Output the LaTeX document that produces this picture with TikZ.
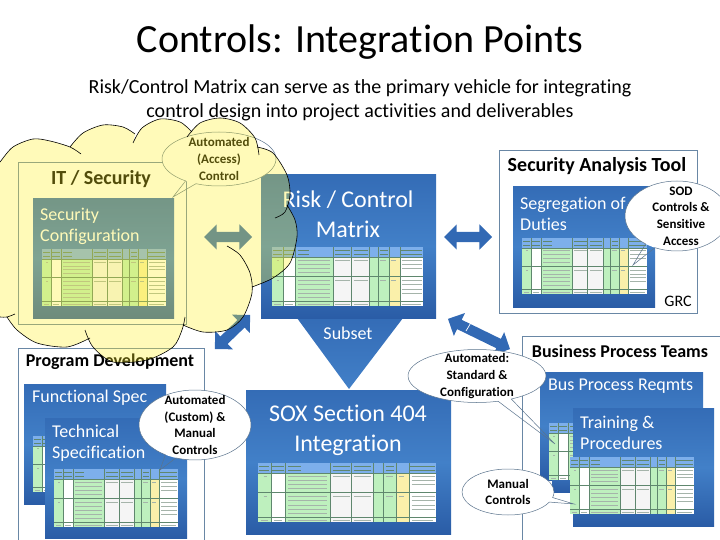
\documentclass[tikz,border=0pt]{standalone}
\usepackage{fontspec}
\setmainfont[Ligatures=NoCommon]{Carlito}
\usetikzlibrary{shapes.geometric,shapes.arrows,shapes.callouts}

\definecolor{boxline}{RGB}{105,135,165}
\definecolor{calloutline}{RGB}{90,115,140}
\definecolor{paneltop}{RGB}{52,108,182}
\definecolor{panelmid}{RGB}{66,128,200}
\definecolor{panelbottom}{RGB}{42,92,166}
\definecolor{arrowblue}{RGB}{50,105,180}
\definecolor{cloudyellow}{RGB}{255,240,36}
\definecolor{tablehead}{RGB}{125,175,235}
\definecolor{tablegreen}{RGB}{190,240,190}
\definecolor{tablegrey}{RGB}{245,245,245}
\definecolor{tableyellow}{RGB}{250,240,170}
\definecolor{tableink}{RGB}{95,135,110}
\definecolor{tablegreek}{RGB}{165,180,170}

\tikzset{
    groupbox/.style={draw=boxline,fill=white,line width=0.8pt,anchor=north west,inner sep=0pt},
    panel/.style={anchor=north west,inner sep=0pt,top color=paneltop,bottom color=panelbottom,middle color=panelmid},
    paneltext/.style={text=white,align=left,anchor=west,inner sep=0pt,font=\fontsize{18}{21}\selectfont},
    bigtext/.style={text=white,align=center,inner sep=0pt,font=\fontsize{24}{30}\selectfont},
    grouptitle/.style={font=\fontsize{#1}{20}\selectfont\bfseries,inner sep=0pt},
    bubblefill/.style={ellipse,fill=white,inner sep=0pt},
    bubbleline/.style={ellipse callout,draw=calloutline,line width=0.5pt,inner sep=0pt,callout pointer arc=12},
    bubbletext/.style={align=center,inner sep=0pt,font=\fontsize{13}{16.7}\selectfont\bfseries},
    linkarrow/.style={double arrow,fill=arrowblue,inner xsep=0pt,inner ysep=5pt,minimum width=25pt,double arrow head extend=7.5pt},
    cloudedge/.style={draw=black,line width=0.6pt}
}

% small table picture, #1 x, #2 y, #3 width, #4 height
\newcommand{\minitable}[4]{
    \begin{scope}[shift={(#1,#2)},xscale=#3/124,yscale=#4/58]
        \foreach \cola/\colb/\colc in {0/9/tablegreen,9/19/white,19/50/tablegreen,50/65/tablegrey,65/80/tablegrey,80/87/tablegreen,87/96/tablegreen,96/105/tableyellow,105/124/white}
            \fill[\colc] (\cola,10) rectangle (\colb,58);
        \fill[tablehead] (0,0) rectangle (124,10);
        \foreach \colx in {9,19,50,65,80,87,96,105}
            \draw[tableink,line width=0.2pt] (\colx,0) -- (\colx,58);
        \foreach \rowy in {10,29,53}
            \draw[tableink,line width=0.2pt] (0,\rowy) -- (124,\rowy);
        % greeked cell text
        \foreach \rowy in {13,17,21,25,33,37,41,45,49}
            \draw[tablegreek,line width=0.35pt] (21,\rowy) -- (48,\rowy);
        \foreach \rowy in {13,17,21,33,37,41,45}
            \draw[tablegreek,line width=0.35pt] (107,\rowy) -- (123,\rowy);
        \foreach \colx/\coly in {52/64,67/79,4/6,89/94,98/102}
            \foreach \rowy in {13,33}
                \draw[tablegreek,line width=0.35pt] (\colx,\rowy) -- (\coly,\rowy);
        \foreach \colx/\coly in {2/7,11/17,21/48,52/64,67/79,107/122}
            \draw[tablegreek,line width=0.35pt] (\colx,56) -- (\coly,56);
        \foreach \colx/\coly in {1/8,10/18,21/30,52/64,67/79,89/95,106/123}
            \foreach \rowy in {3,7}
                \draw[tableink,line width=0.35pt] (\colx,\rowy) -- (\coly,\rowy);
    \end{scope}
}

% speech bubble, #1 name, #2 centre, #3 width, #4 height, #5 tip, #6 text
\newcommand{\bubble}[6]{
    \node[bubblefill,minimum width=#3pt,minimum height=#4pt] (#1fill) at #2 {};
    \node[bubbleline,minimum width=#3pt,minimum height=#4pt,callout absolute pointer={#5}] (#1) at #2 {};
    \node[bubbletext] (#1text) at #2 {#6};
}

% one lobe per line, #1 joins them when filling
\newcommand{\cloudlobes}[1]{
    #1 plot[smooth] coordinates {(-5,168) (0,162) (13,147) (33,139) (50,141) (70,147) (81,154)}
    #1 plot[smooth] coordinates {(70,147) (83,133) (103,125) (123,127) (135,134)}
    #1 plot[smooth] coordinates {(133,143) (142,128) (160,119) (180,122) (192,132)}
    #1 plot[smooth] coordinates {(187,137) (200,123) (220,118) (240,123) (255,138) (259,155)}
    #1 plot[smooth] coordinates {(257,147) (273,153) (287,175) (290,195) (285,212) (275,218)}
    #1 plot[smooth] coordinates {(287,205) (295,220) (297,237) (290,263) (273,278) (252,287)}
    #1 plot[smooth] coordinates {(227,246) (240,255) (250,273) (252,293) (243,317) (227,330) (203,332) (183,325)}
    #1 plot[smooth] coordinates {(185,317) (182,330) (173,347) (147,360) (113,362) (93,347) (85,330)}
    #1 plot[smooth] coordinates {(90,338) (67,347) (37,343) (17,330) (7,317)}
    #1 plot[smooth] coordinates {(15,314) (7,317) (0,317) (-5,316)}
}

\begin{document}
\begin{tikzpicture}[x=1pt,y=-1pt]
    \useasboundingbox (0,0) rectangle (720,540);
    \clip (0,0) rectangle (720,540);

    % title
    \node[inner sep=0pt,font=\fontsize{40}{44}\selectfont] (title) at (360,42) {Controls: Integration Points};
    \node[inner sep=0pt,align=center,font=\fontsize{20}{24}\selectfont] (subtitle) at (360,100) {Risk/Control Matrix can serve as the primary vehicle for integrating\\control design into project activities and deliverables};

    % it / security
    \node[groupbox,minimum width=168pt,minimum height=162pt] (itbox) at (18,162) {};
    \node[grouptitle=20] (ittitle) at (101,179) {IT / Security};
    \node[panel,minimum width=141pt,minimum height=120pt] (secpanel) at (33,198) {};
    \node[paneltext] (sectext) at (40,226) {Security\\Configuration};
    \minitable{42}{249}{124}{57}

    % risk control matrix and the subset wedge
    \shade[top color=paneltop,bottom color=panelmid] (297,318) -- (403,318) -- (349,389) -- cycle;
    \node[text=white,inner sep=0pt,font=\fontsize{18}{20}\selectfont] (subset) at (348,333) {Subset};
    \node[panel,minimum width=175pt,minimum height=144pt] (riskpanel) at (261,174) {};
    \node[bigtext] (risktext) at (348,214) {Risk / Control\\Matrix};
    \minitable{272}{247}{151}{59}

    % security analysis tool
    \node[groupbox,minimum width=198pt,minimum height=163pt] (toolbox) at (499,150) {};
    \node[grouptitle=20] (tooltitle) at (597,166) {Security Analysis Tool};
    \node[panel,minimum width=142pt,minimum height=121pt] (sodpanel) at (513,186) {};
    \node[paneltext] (sodtext) at (520,214) {Segregation of\\Duties};
    \minitable{522}{238}{125}{56}
    \node[inner sep=0pt,font=\fontsize{16}{19}\selectfont] (grc) at (678,301) {GRC};

    % program development
    \node[groupbox,minimum width=186pt,minimum height=200pt] (progbox) at (18,348) {};
    \node[grouptitle=18] (progtitle) at (110,362) {Program Development};
    \node[panel,minimum width=142pt,minimum height=120pt] (funcpanel) at (24,384) {};
    \node[paneltext] (functext) at (32,398) {Functional Spec};
    \minitable{33}{436}{124}{56}
    \node[panel,minimum width=142pt,minimum height=120pt] (techpanel) at (45,418) {};
    \node[paneltext] (techtext) at (52,443) {Technical\\Specification};
    \minitable{54}{469}{124}{58}

    % sox
    \node[panel,minimum width=205pt,minimum height=144pt] (soxpanel) at (246,390) {};
    \node[bigtext] (soxtext) at (348,430) {SOX Section 404\\Integration};
    \minitable{258}{463}{178}{59}

    % business process teams
    \node[groupbox,minimum width=210pt,minimum height=215pt] (bizbox) at (522,336) {};
    \node[grouptitle=18] (biztitle) at (620,351) {Business Process Teams};
    \node[panel,minimum width=163pt,minimum height=108pt] (buspanel) at (540,372) {};
    \node[panel,minimum width=140pt,minimum height=60pt] (buspanelb) at (552,432) {};
    \node[paneltext] (bustext) at (548,386) {Bus Process Reqmts};
    \minitable{549}{423}{124}{57}
    \node[panel,minimum width=141pt,minimum height=118pt] (trainpanel) at (573,408) {};
    \node[paneltext] (traintext) at (580,433) {Training \&\\Procedures};
    \minitable{570}{457}{124}{57}

    % arrows between the groups
    \node[linkarrow,minimum height=48pt] (itlink) at (228,237) {};
    \node[linkarrow,minimum height=48pt] (toollink) at (468,237) {};
    \node[linkarrow,minimum height=49pt,rotate=44] (proglink) at (232.5,332) {};
    \node[linkarrow,minimum height=69pt,rotate=-26] (bizlink) at (479,334) {};
    \coordinate (slasha) at (466,331);
    \coordinate (slashb) at (472,321);
    \draw[white,line width=0.7pt] (slasha) -- (slashb);

    % call outs
    \bubble{accessnote}{(219,159)}{114}{54}{(173,197)}{Automated\\(Access)\\Control}
    \bubble{sodnote}{(677,216)}{104}{70}{(633,265)}{\hspace{8pt}SOD\\\hspace{8pt}Controls \&\\\hspace{8pt}Sensitive\\\hspace{8pt}Access}
    \bubble{customnote}{(195,425)}{112}{70}{(160,470)}{Automated\\(Custom) \&\\Manual\\Controls}
    \bubble{stdnote}{(477,376)}{138}{53}{(555,444)}{Automated:\\Standard \&\\Configuration}
    \bubble{manualnote}{(508,492)}{92}{46}{(574,504)}{Manual\\Controls}

    % yellow cloud over the it side
    \fill[cloudyellow,opacity=0.32] (-10,160) \cloudlobes{--} -- (-10,316) -- cycle;
    \draw[cloudedge] \cloudlobes{};
\end{tikzpicture}
\end{document}
